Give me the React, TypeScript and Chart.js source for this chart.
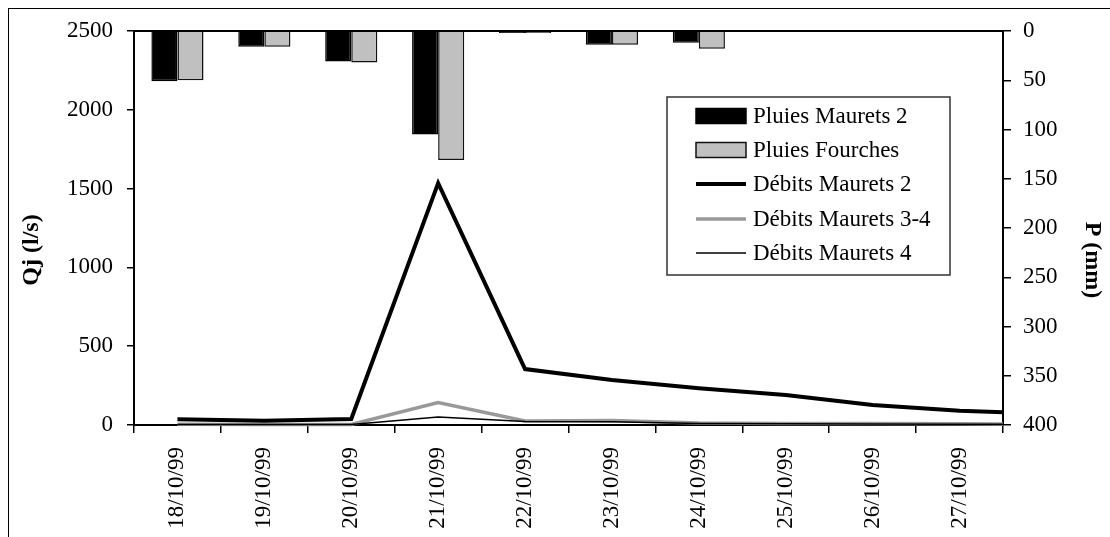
import React, { useEffect, useRef } from 'react';
import { Chart, registerables } from 'chart.js';

Chart.register(...registerables);

// Categories shown on the axis
const dates = [
  '18/10/99', '19/10/99', '20/10/99', '21/10/99', '22/10/99',
  '23/10/99', '24/10/99', '25/10/99', '26/10/99', '27/10/99',
];
// the following day: its flow values run off the right edge of the plot
const nextDay = '28/10/99';

// Rainfall (mm), right reversed axis
const pluiesMaurets2 = [51, 16, 31, 105, 2, 14, 12, null, null, null, null];
const pluiesFourches = [50, 16, 32, 131, 2, 14, 18, null, null, null, null];

// Daily flows (l/s), left axis
const debitsMaurets2 = [36, 27, 38, 1535, 355, 285, 233, 190, 127, 91, 70];
const debitsMaurets34 = [5, 3, 3, 142, 25, 28, 12, 10, 10, 8, 5];
const debitsMaurets4 = [3, 3, 3, 50, 22, 20, 10, 8, 6, 5, 3];

const leftTicks = { min: 0, max: 2500, step: 500 };
const rightTicks = { min: 0, max: 400, step: 50 };

const leftTitle = 'Qj (l/s)';
const rightTitle = 'P (mm)';

const FONT = "'Liberation Serif', 'Times New Roman', serif";

export default function App() {
  const ref = useRef<HTMLCanvasElement>(null);

  useEffect(() => {
    const canvas = ref.current;
    if (!canvas) return;

    const W = 1110;
    const H = 537;

    const decorations = {
      id: 'decorations',
      afterDraw(chart: any) {
        const { ctx, chartArea } = chart;
        ctx.save();
        // top border of the plot area
        ctx.strokeStyle = '#000';
        ctx.lineWidth = 2;
        ctx.beginPath();
        ctx.moveTo(chartArea.left, chartArea.top);
        ctx.lineTo(chartArea.right, chartArea.top);
        ctx.stroke();

        // axis titles
        ctx.fillStyle = '#000';
        ctx.font = `bold 24px ${FONT}`;
        ctx.textAlign = 'center';
        ctx.textBaseline = 'middle';
        ctx.save();
        ctx.translate(32, 250);
        ctx.rotate(-Math.PI / 2);
        ctx.fillText(leftTitle, 0, 0);
        ctx.restore();
        ctx.save();
        ctx.translate(1092, 260);
        ctx.rotate(Math.PI / 2);
        ctx.fillText(rightTitle, 0, 0);
        ctx.restore();

        // legend box
        const bx = chartArea.left + 533;
        const by = chartArea.top + 66;
        const bw = 283;
        const bh = 178;
        ctx.fillStyle = '#fff';
        ctx.fillRect(bx, by, bw, bh);
        ctx.strokeStyle = '#333';
        ctx.lineWidth = 1.5;
        ctx.strokeRect(bx, by, bw, bh);

        const rows = [19, 53, 87, 122, 156];
        const sx = bx + 29;
        const sw = 50;
        const tx = bx + 86;
        ctx.font = `23px ${FONT}`;
        ctx.textBaseline = 'middle';
        ctx.textAlign = 'left';
        chart.data.datasets.forEach((ds: any, i: number) => {
          const cy = by + rows[i];
          if (ds.type === 'line') {
            ctx.strokeStyle = ds.borderColor;
            ctx.lineWidth = ds.borderWidth;
            ctx.beginPath();
            ctx.moveTo(sx, cy);
            ctx.lineTo(sx + sw, cy);
            ctx.stroke();
          } else {
            ctx.fillStyle = ds.backgroundColor;
            ctx.fillRect(sx, cy - 7.5, sw, 15);
            ctx.strokeStyle = ds.borderColor;
            ctx.lineWidth = 1.5;
            ctx.strokeRect(sx, cy - 7.5, sw, 15);
          }
          ctx.fillStyle = '#000';
          ctx.fillText(ds.label, tx, cy + 1);
        });
        ctx.restore();
      },
    };

    const lineClip = { left: 0, right: 0, top: 0, bottom: 4 };

    const chart = new Chart(canvas, {
      type: 'bar',
      data: {
        labels: [...dates, nextDay],
        datasets: [
          {
            type: 'bar',
            label: 'Pluies Maurets 2',
            data: pluiesMaurets2,
            yAxisID: 'y1',
            backgroundColor: '#000000',
            borderColor: '#000000',
            borderWidth: 1.5,
            categoryPercentage: 0.6,
            barPercentage: 1.0,
            order: 4,
          },
          {
            type: 'bar',
            label: 'Pluies Fourches',
            data: pluiesFourches,
            yAxisID: 'y1',
            backgroundColor: '#c0c0c0',
            borderColor: '#111111',
            borderWidth: 1.5,
            categoryPercentage: 0.6,
            barPercentage: 1.0,
            order: 5,
          },
          {
            type: 'line',
            label: 'Débits Maurets 2',
            data: debitsMaurets2,
            yAxisID: 'y',
            borderColor: '#000000',
            backgroundColor: '#000000',
            borderWidth: 4,
            pointRadius: 0,
            tension: 0,
            clip: lineClip,
            order: 1,
          },
          {
            type: 'line',
            label: 'Débits Maurets 3-4',
            data: debitsMaurets34,
            yAxisID: 'y',
            borderColor: '#999999',
            backgroundColor: '#999999',
            borderWidth: 3.5,
            pointRadius: 0,
            tension: 0,
            clip: lineClip,
            order: 3,
          },
          {
            type: 'line',
            label: 'Débits Maurets 4',
            data: debitsMaurets4,
            yAxisID: 'y',
            borderColor: '#000000',
            backgroundColor: '#000000',
            borderWidth: 1.5,
            pointRadius: 0,
            tension: 0,
            clip: lineClip,
            order: 2,
          },
        ],
      },
      options: {
        responsive: false,
        animation: false,
        layout: { padding: { top: 31, left: 0, right: 0, bottom: 0 } },
        plugins: {
          legend: { display: false },
          tooltip: { enabled: false },
        },
        scales: {
          x: {
            type: 'category',
            offset: true,
            grid: {
              offset: true,
              drawOnChartArea: false,
              drawTicks: true,
              tickLength: 8,
              color: '#000',
              lineWidth: 1.5,
            },
            border: { display: true, color: '#000', width: 2 },
            ticks: {
              minRotation: 90,
              maxRotation: 90,
              autoSkip: false,
              padding: 14,
              color: '#000',
              font: { family: FONT, size: 23 },
            },
            afterDataLimits(scale: any) {
              scale.min = 0;
              scale.max = dates.length - 1;
            },
            afterFit(scale: any) {
              scale.height = H - 425;
            },
          },
          y: {
            type: 'linear',
            position: 'left',
            min: leftTicks.min,
            max: leftTicks.max,
            grid: {
              drawOnChartArea: false,
              drawTicks: true,
              tickLength: 7,
              color: '#000',
              lineWidth: 1.5,
            },
            border: { display: true, color: '#000', width: 2 },
            ticks: {
              stepSize: leftTicks.step,
              padding: 14,
              color: '#000',
              font: { family: FONT, size: 23 },
              callback: (v: any) => String(v),
            },
            afterFit(scale: any) {
              scale.width = 134;
            },
          },
          y1: {
            type: 'linear',
            position: 'right',
            reverse: true,
            min: rightTicks.min,
            max: rightTicks.max,
            grid: {
              drawOnChartArea: false,
              drawTicks: true,
              tickLength: 8,
              color: '#000',
              lineWidth: 1.5,
            },
            border: { display: true, color: '#000', width: 2 },
            ticks: {
              stepSize: rightTicks.step,
              padding: 12,
              color: '#000',
              font: { family: FONT, size: 23 },
              callback: (v: any) => String(v),
            },
            afterFit(scale: any) {
              scale.width = W - 1003;
            },
          },
        },
      } as any,
      plugins: [decorations],
    });

    return () => {
      chart.destroy();
    };
  }, []);

  return (
    <div style={{ position: 'fixed', left: 0, top: 0, width: 1110, height: 537, background: '#fff', overflow: 'hidden' }}>
      <div
        style={{
          position: 'absolute',
          left: 8,
          top: 8,
          width: 1120,
          height: 560,
          border: '1px solid #000',
          boxSizing: 'border-box',
        }}
      />
      <canvas
        ref={ref}
        width={1110}
        height={537}
        style={{ position: 'absolute', left: 0, top: 0, width: 1110, height: 537 }}
      />
    </div>
  );
}
